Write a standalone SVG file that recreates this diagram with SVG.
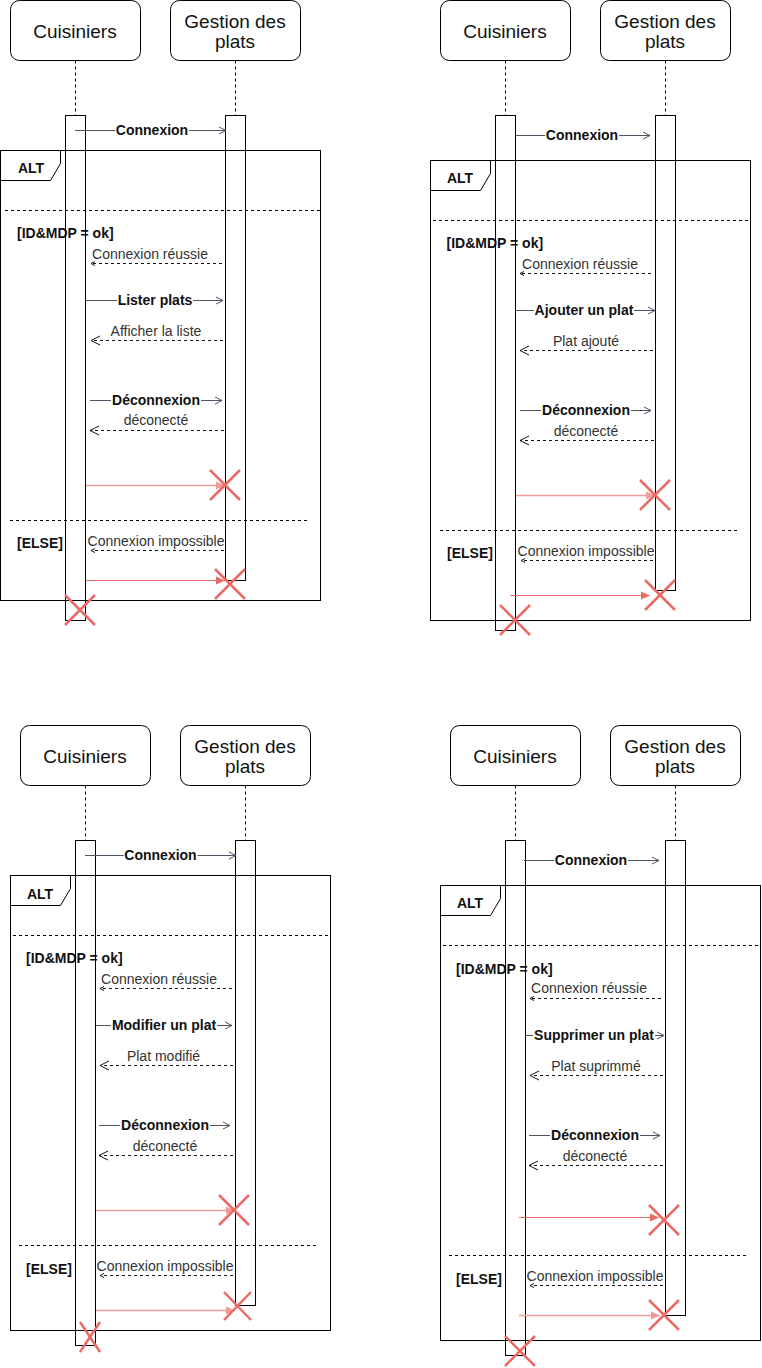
<svg xmlns="http://www.w3.org/2000/svg" width="762" height="1368" viewBox="0 0 762 1368">
<defs>
<style>
.bg{fill:#fff}
.box{fill:#fff;stroke:#000;stroke-width:1}
.h{font-family:"Liberation Sans",Arial,sans-serif;font-size:19px;fill:#111;text-anchor:middle}
.life{stroke:#000;stroke-width:1;stroke-dasharray:3,3;fill:none}
.act{fill:none;stroke:#000;stroke-width:1}
.frame{fill:none;stroke:#000;stroke-width:1}
.sep{stroke:#000;stroke-width:1;stroke-dasharray:3,3}
.g{font-family:"Liberation Sans",Arial,sans-serif;font-size:14px;font-weight:bold;fill:#111}
.msg{stroke:#4d5563;stroke-width:1;fill:none;marker-end:url(#a-open)}
.ret{stroke:#111;stroke-width:1;stroke-dasharray:3,3;fill:none;marker-end:url(#a-ret)}
.rets{stroke:#111;stroke-width:1;stroke-dasharray:3,3;fill:none;marker-end:url(#a-tick)}
.lbl{font-family:"Liberation Sans",Arial,sans-serif;font-size:14px;fill:#333;text-anchor:middle}
.blbl{font-family:"Liberation Sans",Arial,sans-serif;font-size:14px;font-weight:bold;fill:#111;text-anchor:middle}
.lb{fill:#fff;stroke:none}
.r1{stroke:#F19C99;stroke-width:1.5;marker-end:url(#a-blk-l)}
.r2{stroke:#EA6B66;stroke-width:1.2;marker-end:url(#a-blk)}
.kill{stroke:#EA6B66;stroke-width:2.5;fill:none}
</style>
<marker id="a-open" markerUnits="userSpaceOnUse" markerWidth="10" markerHeight="10" refX="7" refY="3.5" orient="auto" overflow="visible"><path d="M0,0 L7,3.5 L0,7" fill="none" stroke="#4d5563" stroke-width="1"/></marker>
<marker id="a-ret" markerUnits="userSpaceOnUse" markerWidth="10" markerHeight="10" refX="9" refY="4.5" orient="auto" overflow="visible"><path d="M0,0 L9,4.5 L0,9" fill="none" stroke="#111" stroke-width="1"/></marker>
<marker id="a-tick" markerUnits="userSpaceOnUse" markerWidth="6" markerHeight="6" refX="4" refY="2" orient="auto" overflow="visible"><path d="M0,0 L4,2 L0,4" fill="none" stroke="#111" stroke-width="1"/></marker>
<marker id="a-blk" markerUnits="userSpaceOnUse" markerWidth="10" markerHeight="10" refX="9" refY="4" orient="auto" overflow="visible"><path d="M0,0 L9,4 L0,8 z" fill="#EA6B66"/></marker>
<marker id="a-blk-l" markerUnits="userSpaceOnUse" markerWidth="10" markerHeight="10" refX="9" refY="4" orient="auto" overflow="visible"><path d="M0,0 L9,4 L0,8 z" fill="#F19C99"/></marker>
</defs>
<rect class="bg" x="0" y="0" width="762" height="1368"/>

<!-- Diagram 1 -->
<g id="d1">
 <g id="d1-alt">
  <rect class="frame" x="0.5" y="150.5" width="320" height="450"/>
  <path class="frame" d="M0.5,180.5 H50.5 L60.5,163.5 V150.5"/>
  <text class="g" x="31" y="172.5" text-anchor="middle">ALT</text>
  <line class="sep" x1="5" y1="210.5" x2="320" y2="210.5"/>
  <text class="g" x="17" y="238">[ID&amp;MDP = ok]</text>
  <line class="sep" x1="10" y1="520.5" x2="308" y2="520.5"/>
  <text class="g" x="17" y="548">[ELSE]</text>
 </g>
 <g id="d1-cuisiniers">
  <rect class="box" x="10.5" y="0.5" width="130" height="60" rx="9"/>
  <text class="h" x="75" y="38">Cuisiniers</text>
  <line class="life" x1="75.5" y1="60.5" x2="75.5" y2="115.5"/>
  <rect class="act" x="65.5" y="115.5" width="20" height="505"/>
 </g>
 <g id="d1-gestion">
  <rect class="box" x="170.5" y="0.5" width="130" height="60" rx="9"/>
  <text class="h" x="235" y="27.5">Gestion des</text>
  <text class="h" x="235" y="47.5">plats</text>
  <line class="life" x1="235.5" y1="60.5" x2="235.5" y2="115.5"/>
  <rect class="act" x="225.5" y="115.5" width="20" height="465"/>
 </g>
 <g id="d1-connectors">
  <line class="msg" x1="75" y1="130.5" x2="226" y2="130.5"/>
  <rect class="lb" x="115" y="124" width="74" height="14"/>
  <text class="blbl" x="152" y="135">Connexion</text>
  <line class="rets" x1="222" y1="263.5" x2="91" y2="263.5"/>
  <text class="lbl" x="150" y="259">Connexion réussie</text>
  <line class="msg" x1="86" y1="300.5" x2="223" y2="300.5"/>
  <rect class="lb" x="117" y="294" width="76" height="14"/>
  <text class="blbl" x="155" y="305">Lister plats</text>
  <line class="ret" x1="223" y1="340.5" x2="91" y2="340.5"/>
  <text class="lbl" x="156" y="336">Afficher la liste</text>
  <line class="msg" x1="90" y1="400.5" x2="222" y2="400.5"/>
  <rect class="lb" x="111" y="394" width="90" height="14"/>
  <text class="blbl" x="156" y="405">Déconnexion</text>
  <line class="ret" x1="224" y1="430.5" x2="90" y2="430.5"/>
  <text class="lbl" x="156" y="425">déconecté</text>
  <line class="r1" x1="86" y1="485.5" x2="225" y2="485.5"/>
  <line class="rets" x1="224" y1="550.5" x2="91" y2="550.5"/>
  <text class="lbl" x="156" y="546">Connexion impossible</text>
  <line class="r2" x1="86" y1="580.5" x2="225" y2="580.5"/>
 </g>
 <g id="d1-destroy">
  <path class="kill" d="M210,470 L240,500 M240,470 L210,500"/>
  <path class="kill" d="M215,569 L245,599 M245,569 L215,599"/>
  <path class="kill" d="M65,595 L95,625 M95,595 L65,625"/>
 </g>
</g>

<!-- Diagram 2 -->
<g id="d2">
 <g id="d2-alt">
  <rect class="frame" x="430.5" y="160.5" width="320" height="460"/>
  <path class="frame" d="M430.5,190.5 H480.5 L490.5,173.5 V160.5"/>
  <text class="g" x="460" y="182.5" text-anchor="middle">ALT</text>
  <line class="sep" x1="433" y1="220.5" x2="750" y2="220.5"/>
  <text class="g" x="446.5" y="248">[ID&amp;MDP = ok]</text>
  <line class="sep" x1="440" y1="530.5" x2="738" y2="530.5"/>
  <text class="g" x="447" y="558">[ELSE]</text>
 </g>
 <g id="d2-cuisiniers">
  <rect class="box" x="440.5" y="0.5" width="130" height="60" rx="9"/>
  <text class="h" x="505" y="38">Cuisiniers</text>
  <line class="life" x1="505.5" y1="60.5" x2="505.5" y2="115.5"/>
  <rect class="act" x="495.5" y="115.5" width="20" height="515"/>
 </g>
 <g id="d2-gestion">
  <rect class="box" x="600.5" y="0.5" width="130" height="60" rx="9"/>
  <text class="h" x="665" y="27.5">Gestion des</text>
  <text class="h" x="665" y="47.5">plats</text>
  <line class="life" x1="665.5" y1="60.5" x2="665.5" y2="115.5"/>
  <rect class="act" x="655.5" y="115.5" width="20" height="475"/>
 </g>
 <g id="d2-connectors">
  <line class="msg" x1="516" y1="135.5" x2="650" y2="135.5"/>
  <rect class="lb" x="545" y="129" width="74" height="14"/>
  <text class="blbl" x="582" y="140">Connexion</text>
  <line class="rets" x1="651" y1="273.5" x2="520" y2="273.5"/>
  <text class="lbl" x="580" y="269">Connexion réussie</text>
  <line class="msg" x1="516" y1="310.5" x2="655" y2="310.5"/>
  <rect class="lb" x="534" y="304" width="100" height="14"/>
  <text class="blbl" x="584" y="315">Ajouter un plat</text>
  <line class="ret" x1="653" y1="350.5" x2="520" y2="350.5"/>
  <text class="lbl" x="586" y="346">Plat ajouté</text>
  <line class="msg" x1="520" y1="410.5" x2="651" y2="410.5"/>
  <rect class="lb" x="541" y="404" width="90" height="14"/>
  <text class="blbl" x="586" y="415">Déconnexion</text>
  <line class="ret" x1="654" y1="440.5" x2="520" y2="440.5"/>
  <text class="lbl" x="586" y="436">déconecté</text>
  <line class="r1" x1="516" y1="495.5" x2="655" y2="495.5"/>
  <line class="rets" x1="653" y1="560.5" x2="521" y2="560.5"/>
  <text class="lbl" x="586" y="556">Connexion impossible</text>
  <line class="r2" x1="510" y1="595.5" x2="650" y2="595.5"/>
 </g>
 <g id="d2-destroy">
  <path class="kill" d="M640,480 L670,510 M670,480 L640,510"/>
  <path class="kill" d="M645,580 L675,610 M675,580 L645,610"/>
  <path class="kill" d="M500,605 L530,635 M530,605 L500,635"/>
 </g>
</g>

<!-- Diagram 3 -->
<g id="d3">
 <g id="d3-alt">
  <rect class="frame" x="10.5" y="875.5" width="320" height="455"/>
  <path class="frame" d="M10.5,905.5 H60.5 L70.5,888.5 V875.5"/>
  <text class="g" x="40" y="899" text-anchor="middle">ALT</text>
  <line class="sep" x1="13" y1="935.5" x2="330" y2="935.5"/>
  <text class="g" x="26" y="963">[ID&amp;MDP = ok]</text>
  <line class="sep" x1="19" y1="1245.5" x2="317" y2="1245.5"/>
  <text class="g" x="26" y="1274">[ELSE]</text>
 </g>
 <g id="d3-cuisiniers">
  <rect class="box" x="20.5" y="725.5" width="130" height="60" rx="9"/>
  <text class="h" x="85" y="763">Cuisiniers</text>
  <line class="life" x1="85.5" y1="785.5" x2="85.5" y2="840.5"/>
  <rect class="act" x="75.5" y="840.5" width="20" height="505"/>
 </g>
 <g id="d3-gestion">
  <rect class="box" x="180.5" y="725.5" width="130" height="60" rx="9"/>
  <text class="h" x="245" y="752.5">Gestion des</text>
  <text class="h" x="245" y="772.5">plats</text>
  <line class="life" x1="245.5" y1="785.5" x2="245.5" y2="840.5"/>
  <rect class="act" x="235.5" y="840.5" width="20" height="465"/>
 </g>
 <g id="d3-connectors">
  <line class="msg" x1="85" y1="855.5" x2="236" y2="855.5"/>
  <rect class="lb" x="123.5" y="849" width="74" height="14"/>
  <text class="blbl" x="160.5" y="860">Connexion</text>
  <line class="rets" x1="232" y1="988.5" x2="100" y2="988.5"/>
  <text class="lbl" x="159" y="984">Connexion réussie</text>
  <line class="msg" x1="96" y1="1025.5" x2="232" y2="1025.5"/>
  <rect class="lb" x="111" y="1019" width="106" height="14"/>
  <text class="blbl" x="164" y="1030">Modifier un plat</text>
  <line class="ret" x1="233" y1="1065.5" x2="100" y2="1065.5"/>
  <text class="lbl" x="163.5" y="1061">Plat modifié</text>
  <line class="msg" x1="99" y1="1125.5" x2="230" y2="1125.5"/>
  <rect class="lb" x="120" y="1119" width="90" height="14"/>
  <text class="blbl" x="165" y="1130">Déconnexion</text>
  <line class="ret" x1="233" y1="1155.5" x2="99" y2="1155.5"/>
  <text class="lbl" x="165" y="1151">déconecté</text>
  <line class="r1" x1="96" y1="1210.5" x2="235" y2="1210.5"/>
  <line class="rets" x1="233" y1="1275.5" x2="100" y2="1275.5"/>
  <text class="lbl" x="165" y="1271">Connexion impossible</text>
  <line class="r1" x1="96" y1="1310.5" x2="235" y2="1310.5"/>
 </g>
 <g id="d3-destroy">
  <path class="kill" d="M219,1195 L249,1225 M249,1195 L219,1225"/>
  <path class="kill" d="M224,1292 L251,1320 M251,1292 L224,1320"/>
  <path class="kill" d="M80,1322 L100,1352 M100,1322 L80,1352"/>
 </g>
</g>

<!-- Diagram 4 -->
<g id="d4">
 <g id="d4-alt">
  <rect class="frame" x="440.5" y="885.5" width="320" height="455"/>
  <path class="frame" d="M440.5,915.5 H490.5 L500.5,898.5 V885.5"/>
  <text class="g" x="470" y="908" text-anchor="middle">ALT</text>
  <line class="sep" x1="443" y1="945.5" x2="760" y2="945.5"/>
  <text class="g" x="456" y="974">[ID&amp;MDP = ok]</text>
  <line class="sep" x1="449" y1="1255.5" x2="747" y2="1255.5"/>
  <text class="g" x="456" y="1284">[ELSE]</text>
 </g>
 <g id="d4-cuisiniers">
  <rect class="box" x="450.5" y="725.5" width="130" height="60" rx="9"/>
  <text class="h" x="515" y="763">Cuisiniers</text>
  <line class="life" x1="515.5" y1="785.5" x2="515.5" y2="840.5"/>
  <rect class="act" x="505.5" y="840.5" width="20" height="515"/>
 </g>
 <g id="d4-gestion">
  <rect class="box" x="610.5" y="725.5" width="130" height="60" rx="9"/>
  <text class="h" x="675" y="752.5">Gestion des</text>
  <text class="h" x="675" y="772.5">plats</text>
  <line class="life" x1="675.5" y1="785.5" x2="675.5" y2="840.5"/>
  <rect class="act" x="665.5" y="840.5" width="20" height="475"/>
 </g>
 <g id="d4-connectors">
  <line class="msg" x1="524" y1="860.5" x2="659" y2="860.5"/>
  <rect class="lb" x="554" y="854" width="74" height="14"/>
  <text class="blbl" x="591" y="865">Connexion</text>
  <line class="rets" x1="661" y1="998.5" x2="530" y2="998.5"/>
  <text class="lbl" x="589" y="993">Connexion réussie</text>
  <line class="msg" x1="526" y1="1035.5" x2="664" y2="1035.5"/>
  <rect class="lb" x="533" y="1029" width="122" height="14"/>
  <text class="blbl" x="594" y="1040">Supprimer un plat</text>
  <line class="ret" x1="663" y1="1075.5" x2="530" y2="1075.5"/>
  <text class="lbl" x="596" y="1071">Plat suprimmé</text>
  <line class="msg" x1="529" y1="1135.5" x2="660" y2="1135.5"/>
  <rect class="lb" x="550" y="1129" width="90" height="14"/>
  <text class="blbl" x="595" y="1140">Déconnexion</text>
  <line class="ret" x1="663" y1="1165.5" x2="529" y2="1165.5"/>
  <text class="lbl" x="595" y="1161">déconecté</text>
  <line class="r2" x1="519" y1="1217.5" x2="659" y2="1217.5"/>
  <line class="rets" x1="663" y1="1285.5" x2="530" y2="1285.5"/>
  <text class="lbl" x="595" y="1281">Connexion impossible</text>
  <line class="r1" x1="519" y1="1315.5" x2="660" y2="1315.5"/>
 </g>
 <g id="d4-destroy">
  <path class="kill" d="M649,1205 L679,1235 M679,1205 L649,1235"/>
  <path class="kill" d="M649,1300 L679,1330 M679,1300 L649,1330"/>
  <path class="kill" d="M505,1336 L535,1366 M535,1336 L505,1366"/>
 </g>
</g>
</svg>
